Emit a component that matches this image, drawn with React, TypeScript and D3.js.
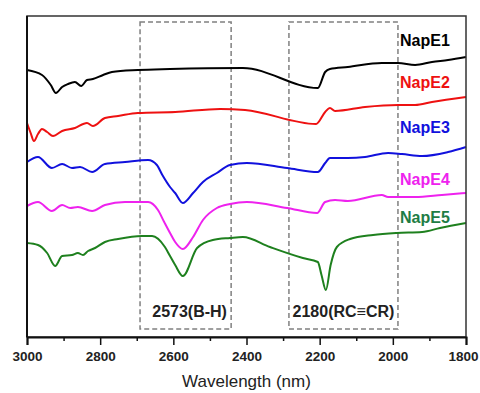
import React, { useEffect, useRef } from "react";
import * as d3 from "d3";

// FTIR spectra, wavenumber (reads as "Wavelength") vs transmittance (a.u.)
const seriesNames = ["NapE1", "NapE2", "NapE3", "NapE4", "NapE5"];

const napE1: [number, number][] = [
  [3000, 26.8], [2959, 26.3], [2935, 25.3], [2921, 24.5], [2904, 25.1],
  [2888, 25.4], [2869, 25.6], [2852, 25.2], [2836, 25.8], [2820, 25.9],
  [2792, 26.3], [2768, 26.6], [2697, 26.8], [2609, 26.9], [2410, 27.0],
  [2205, 25.0], [2185, 26.6], [2172, 26.9], [2123, 27.1], [2030, 27.5],
  [1986, 27.5], [1939, 27.3], [1893, 27.6], [1849, 27.8], [1800, 28.1],
];
const napE2: [number, number][] = [
  [3000, 21.5], [2990, 20.5], [2981, 19.7], [2970, 20.4], [2959, 20.9],
  [2945, 20.6], [2929, 20.2], [2904, 20.7], [2869, 21.0], [2836, 21.5],
  [2820, 21.2], [2787, 22.0], [2751, 22.2], [2697, 22.5], [2595, 22.6],
  [2472, 22.9], [2404, 22.8], [2210, 21.4], [2185, 22.6], [2172, 23.0],
  [2158, 22.7], [2076, 23.1], [1986, 23.3], [1939, 23.3], [1893, 23.6],
  [1800, 24.1],
];
const napE3: [number, number][] = [
  [3000, 17.6], [2970, 18.1], [2932, 17.0], [2904, 17.4], [2877, 17.0],
  [2855, 17.1], [2822, 16.6], [2787, 17.4], [2732, 17.6], [2669, 17.8],
  [2645, 17.3], [2630, 16.3], [2609, 15.1], [2595, 14.5], [2574, 13.5],
  [2546, 14.5], [2519, 15.6], [2481, 16.5], [2445, 17.3], [2399, 17.5],
  [2289, 17.0], [2205, 16.6], [2185, 17.5], [2172, 18.0], [2123, 18.0],
  [2076, 18.1], [2013, 18.5], [1975, 18.4], [1920, 18.2], [1849, 18.6],
  [1800, 19.1],
];
const napE4: [number, number][] = [
  [3000, 13.2], [2970, 13.6], [2932, 12.7], [2904, 13.3], [2882, 13.0],
  [2861, 13.1], [2822, 12.7], [2787, 13.3], [2732, 13.6], [2669, 13.6],
  [2642, 12.8], [2625, 11.6], [2609, 10.5], [2595, 9.6], [2574, 8.9],
  [2546, 10.1], [2519, 11.8], [2481, 13.0], [2445, 13.4], [2399, 13.6],
  [2289, 13.0], [2207, 12.5], [2185, 13.6], [2158, 13.8], [2123, 13.7],
  [2030, 14.3], [2013, 14.1], [1939, 14.1], [1866, 14.3], [1800, 14.5],
];
const napE5: [number, number][] = [
  [3000, 9.5], [2970, 9.3], [2945, 8.5], [2923, 7.2], [2904, 8.2],
  [2877, 8.3], [2861, 8.5], [2847, 8.3], [2833, 8.7], [2814, 9.0],
  [2787, 9.6], [2751, 9.9], [2686, 10.2], [2658, 10.2], [2623, 9.1],
  [2609, 8.2], [2595, 7.3], [2574, 6.2], [2535, 9.0], [2492, 9.8],
  [2445, 10.0], [2410, 10.1], [2336, 9.1], [2246, 8.0], [2205, 7.6],
  [2195, 6.3], [2183, 4.8], [2170, 7.3], [2153, 9.1], [2117, 9.9],
  [2054, 10.3], [1989, 10.5], [1920, 10.6], [1871, 11.0], [1800, 11.5],
];
const seriesData = [napE1, napE2, napE3, napE4, napE5];

const xTicks = [3000, 2800, 2600, 2400, 2200, 2000, 1800];
const xMinorTicks = [2900, 2700, 2500, 2300, 2100, 1900];
const peakLabels = ["2573(B-H)", "2180(RC≡CR)"];
const peakRanges: [number, number][] = [[2691, 2442], [2284, 1986]];

const colors = ["#000000", "#ee1111", "#1111dd", "#ee22ee", "#1e801e"];
const labelColors = ["#000000", "#ee1111", "#1111dd", "#ee22ee", "#1e7d45"];
const labelY = [46, 88, 133, 185, 223];

const FONT = "'Liberation Sans', Arial, sans-serif";

const App = () => {
  const ref = useRef<SVGSVGElement | null>(null);

  useEffect(() => {
    if (!ref.current) return;
    const svg = d3.select(ref.current);
    svg.selectAll("*").remove();

    const margin = { top: 16, right: 14, bottom: 56, left: 27 };
    const width = 480;
    const height = 393;

    const x = d3
      .scaleLinear()
      .domain([3000, 1800])
      .range([margin.left, width - margin.right]);
    const y = d3
      .scaleLinear()
      .domain([0.1, 32.2])
      .range([height - margin.bottom, margin.top]);

    // dashed peak boxes
    const boxes = svg.append("g");
    peakRanges.forEach((r, i) => {
      const x0 = x(r[0]);
      const x1 = x(r[1]);
      boxes
        .append("rect")
        .attr("x", x0)
        .attr("y", 22)
        .attr("width", x1 - x0)
        .attr("height", 307)
        .attr("fill", "none")
        .attr("stroke", "#808080")
        .attr("stroke-width", 1.5)
        .attr("stroke-dasharray", "5,3");
      boxes
        .append("text")
        .attr("x", (x0 + x1) / 2 + (i === 0 ? 4 : 0))
        .attr("y", 317)
        .attr("text-anchor", "middle")
        .attr("font-family", FONT)
        .attr("font-weight", "bold")
        .attr("font-size", 16)
        .attr("fill", "#222")
        .text(peakLabels[i]);
    });

    const line = d3
      .line<[number, number]>()
      .x((d) => x(d[0]))
      .y((d) => y(d[1]))
      .curve(d3.curveMonotoneX);

    svg
      .append("g")
      .selectAll("path")
      .data(seriesData)
      .join("path")
      .attr("d", (d) => line(d))
      .attr("fill", "none")
      .attr("stroke", (d, i) => colors[i])
      .attr("stroke-width", 2)
      .attr("stroke-linejoin", "round");

    svg
      .append("g")
      .selectAll("text")
      .data(seriesNames)
      .join("text")
      .attr("x", 400)
      .attr("y", (d, i) => labelY[i])
      .attr("font-family", FONT)
      .attr("font-weight", "bold")
      .attr("font-size", 16)
      .attr("fill", (d, i) => labelColors[i])
      .text((d) => d);

    // frame
    svg
      .append("rect")
      .attr("x", margin.left)
      .attr("y", margin.top)
      .attr("width", width - margin.left - margin.right)
      .attr("height", height - margin.top - margin.bottom)
      .attr("fill", "none")
      .attr("stroke", "#333")
      .attr("stroke-width", 1.5);
    svg
      .append("line")
      .attr("x1", margin.left)
      .attr("x2", margin.left)
      .attr("y1", margin.top)
      .attr("y2", height - margin.bottom)
      .attr("stroke", "#111")
      .attr("stroke-width", 2);

    const xAxis = svg
      .append("g")
      .attr("transform", `translate(0,${height - margin.bottom})`)
      .call(
        d3
          .axisBottom(x)
          .tickValues(xTicks)
          .tickFormat((d) => String(d))
          .tickSize(8)
          .tickPadding(6)
      );
    xAxis.select(".domain").attr("stroke", "#111").attr("stroke-width", 2);
    xAxis.selectAll(".tick line").attr("stroke", "#111").attr("stroke-width", 1.5);
    xAxis
      .selectAll(".tick text")
      .attr("font-family", FONT)
      .attr("font-weight", "bold")
      .attr("font-size", 13.5)
      .attr("fill", "#222")
      // keep the last label (1800) inside the page
      .attr("dx", (d) => (d === 1800 ? -3 : 0));

    svg
      .append("g")
      .attr("transform", `translate(0,${height - margin.bottom})`)
      .call(d3.axisBottom(x).tickValues(xMinorTicks).tickSize(4).tickFormat(() => ""))
      .call((g) => g.select(".domain").remove())
      .selectAll(".tick line")
      .attr("stroke", "#111")
      .attr("stroke-width", 1.5);

    svg
      .append("text")
      .attr("x", (margin.left + width - margin.right) / 2)
      .attr("y", 387)
      .attr("text-anchor", "middle")
      .attr("font-family", FONT)
      .attr("font-size", 17)
      .attr("fill", "#222")
      .text("Wavelength (nm)");
  }, []);

  return (
    <svg
      ref={ref}
      width={480}
      height={393}
      style={{ position: "absolute", left: 0, top: 0, background: "#fff" }}
    ></svg>
  );
};

export default App;
